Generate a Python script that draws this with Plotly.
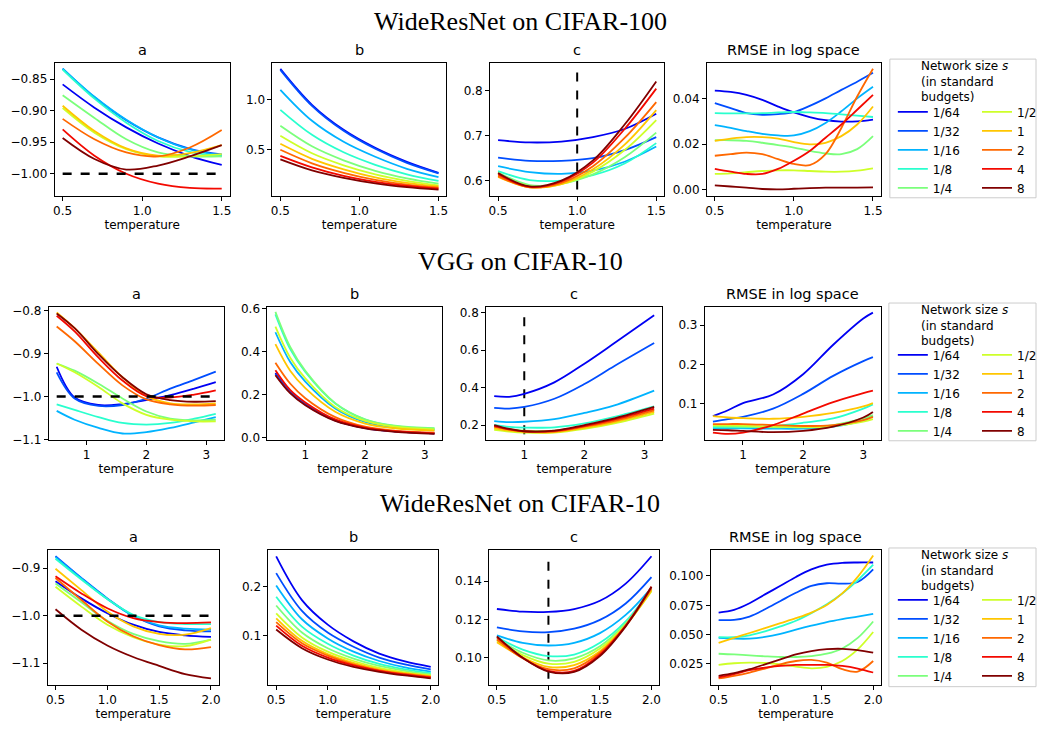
import plotly.graph_objects as go

W, H = 1042, 734

SIZES = ["1/64", "1/32", "1/16", "1/8", "1/4", "1/2", "1", "2", "4", "8"]
COLORS = ["#0000f3", "#004dff", "#00b3ff", "#29ffce", "#7bff7b",
          "#ceff29", "#ffc600", "#ff6800", "#f30900", "#800000"]
ROW_TITLES = ["WideResNet on CIFAR-100", "VGG on CIFAR-10", "WideResNet on CIFAR-10"]
PANEL_TITLES = ["a", "b", "c", "RMSE in log space"]
LEGEND_TITLE = "Network size <i>s</i><br>(in standard<br>budgets)"

# ---------------- Row 1: WideResNet on CIFAR-100 ----------------
T1 = [0.5, 0.7, 0.9, 1.1, 1.3, 1.5]
T1_RMSE = [0.5, 0.6, 0.7, 0.8, 0.9, 1.0, 1.1, 1.2, 1.3, 1.4, 1.5]
R1_A = [
    [-0.8583, -0.8952, -0.9265, -0.9521, -0.9719, -0.9860],
    [-0.8333, -0.8788, -0.9152, -0.9424, -0.9604, -0.9693],
    [-0.8333, -0.8780, -0.9145, -0.9425, -0.9615, -0.9714],
    [-0.8349, -0.8810, -0.9190, -0.9480, -0.9655, -0.9724],
    [-0.8755, -0.9115, -0.9453, -0.9662, -0.9724, -0.9724],
    [-0.8958, -0.9349, -0.9610, -0.9724, -0.9724, -0.9688],
    [-0.8922, -0.9323, -0.9599, -0.9714, -0.9672, -0.9547],
    [-0.9130, -0.9453, -0.9662, -0.9724, -0.9584, -0.9308],
    [-0.9297, -0.9714, -1.0000, -1.0157, -1.0225, -1.0235],
    [-0.9433, -0.9766, -0.9933, -0.9870, -0.9724, -0.9547],
]
R1_B = [
    [1.31, 0.95, 0.70, 0.52, 0.38, 0.27],
    [1.30, 0.94, 0.69, 0.51, 0.37, 0.265],
    [1.10, 0.79, 0.58, 0.43, 0.31, 0.227],
    [0.90, 0.65, 0.475, 0.35, 0.255, 0.19],
    [0.74, 0.535, 0.395, 0.29, 0.215, 0.162],
    [0.64, 0.465, 0.345, 0.255, 0.19, 0.145],
    [0.56, 0.41, 0.305, 0.225, 0.17, 0.133],
    [0.50, 0.365, 0.27, 0.20, 0.152, 0.122],
    [0.44, 0.325, 0.24, 0.18, 0.138, 0.112],
    [0.405, 0.295, 0.22, 0.165, 0.127, 0.102],
]
R1_C = [
    [0.690, 0.685, 0.687, 0.697, 0.715, 0.749],
    [0.651, 0.644, 0.644, 0.650, 0.668, 0.697],
    [0.632, 0.619, 0.615, 0.622, 0.642, 0.676],
    [0.621, 0.601, 0.600, 0.612, 0.638, 0.6835],
    [0.618, 0.590, 0.593, 0.614, 0.652, 0.707],
    [0.612, 0.587, 0.592, 0.620, 0.668, 0.735],
    [0.608, 0.585, 0.592, 0.625, 0.680, 0.757],
    [0.610, 0.585, 0.595, 0.632, 0.695, 0.775],
    [0.614, 0.586, 0.598, 0.640, 0.715, 0.805],
    [0.617, 0.587, 0.600, 0.645, 0.725, 0.821],
]
R1_RMSE = [
    [0.0435, 0.0429, 0.0416, 0.0394, 0.0365, 0.0339, 0.0319, 0.0305, 0.0299, 0.0300, 0.0308],
    [0.0380, 0.0358, 0.0336, 0.0329, 0.0332, 0.0341, 0.0368, 0.0401, 0.0438, 0.0474, 0.0513],
    [0.0283, 0.0271, 0.0257, 0.0245, 0.0238, 0.0238, 0.0257, 0.0293, 0.0344, 0.0401, 0.0452],
    [0.0336, 0.0335, 0.0335, 0.0336, 0.0339, 0.0341, 0.0339, 0.0336, 0.0331, 0.0325, 0.0319],
    [0.0217, 0.0217, 0.0214, 0.0206, 0.0196, 0.0185, 0.0170, 0.0159, 0.0156, 0.0178, 0.0235],
    [0.0069, 0.0072, 0.0077, 0.0082, 0.0085, 0.0085, 0.0082, 0.0079, 0.0079, 0.0084, 0.0094],
    [0.0214, 0.0224, 0.0231, 0.0231, 0.0224, 0.0209, 0.0199, 0.0206, 0.0235, 0.0286, 0.0365],
    [0.0149, 0.0156, 0.0163, 0.0156, 0.0134, 0.0113, 0.0108, 0.0156, 0.0271, 0.0409, 0.0531],
    [0.0091, 0.0079, 0.0069, 0.0069, 0.0091, 0.0127, 0.0170, 0.0228, 0.0286, 0.0351, 0.0416],
    [0.0019, 0.0014, 0.0009, 0.0003, 0.0001, 0.0004, 0.0007, 0.0009, 0.0009, 0.0009, 0.0010],
]

# ---------------- Row 2: VGG on CIFAR-10 ----------------
T2_A = [0.5, 0.8, 1.2, 1.6, 2.0, 2.4, 2.8, 3.16]
T2_BC = [0.5, 0.75, 1.0, 1.5, 2.0, 2.5, 3.16]
T2_RMSE = [0.5, 0.75, 1.0, 1.5, 2.0, 2.5, 3.0, 3.16]
R2_A = [
    [-0.9305, -1.0023, -1.0198, -1.0176, -1.0084, -0.9969, -0.9817, -0.9664],
    [-0.9435, -1.0046, -1.0221, -1.0198, -1.0046, -0.9817, -0.9611, -0.9420],
    [-1.0336, -1.0542, -1.0733, -1.0863, -1.0832, -1.0733, -1.0603, -1.0481],
    [-1.0183, -1.0313, -1.0481, -1.0618, -1.0656, -1.0618, -1.0519, -1.0405],
    [-0.9229, -0.9397, -0.9702, -1.0046, -1.0351, -1.0519, -1.0557, -1.0542],
    [-0.9229, -0.9435, -0.9779, -1.0160, -1.0427, -1.0542, -1.0580, -1.0580],
    [-0.8038, -0.8405, -0.8977, -0.9550, -0.9992, -1.0160, -1.0183, -1.0160],
    [-0.8366, -0.8710, -0.9244, -0.9740, -1.0069, -1.0183, -1.0214, -1.0198],
    [-0.8115, -0.8481, -0.9092, -0.9626, -0.9992, -1.0023, -0.9954, -0.9855],
    [-0.8061, -0.8405, -0.9015, -0.9550, -0.9947, -1.0084, -1.0122, -1.0107],
]
R2_B = [
    [0.300, 0.210, 0.155, 0.080, 0.045, 0.028, 0.019],
    [0.295, 0.210, 0.153, 0.079, 0.044, 0.028, 0.019],
    [0.490, 0.350, 0.260, 0.135, 0.072, 0.046, 0.035],
    [0.573, 0.410, 0.305, 0.158, 0.083, 0.053, 0.041],
    [0.585, 0.420, 0.310, 0.160, 0.085, 0.055, 0.043],
    [0.516, 0.370, 0.275, 0.142, 0.077, 0.050, 0.038],
    [0.435, 0.310, 0.230, 0.120, 0.065, 0.043, 0.032],
    [0.348, 0.250, 0.183, 0.095, 0.050, 0.031, 0.022],
    [0.313, 0.220, 0.163, 0.084, 0.046, 0.029, 0.019],
    [0.290, 0.205, 0.150, 0.077, 0.042, 0.026, 0.017],
]
R2_C = [
    [0.3544, 0.3509, 0.3667, 0.4281, 0.5281, 0.6386, 0.7877],
    [0.2912, 0.2877, 0.2965, 0.3404, 0.4193, 0.5158, 0.6386],
    [0.2211, 0.2158, 0.2175, 0.2316, 0.2649, 0.3053, 0.3842],
    [0.2000, 0.1895, 0.1860, 0.1877, 0.2088, 0.2439, 0.3000],
    [0.1877, 0.1772, 0.1702, 0.1702, 0.1912, 0.2263, 0.2825],
    [0.1737, 0.1649, 0.1596, 0.1596, 0.1789, 0.2088, 0.2614],
    [0.1825, 0.1702, 0.1632, 0.1614, 0.1842, 0.2158, 0.2702],
    [0.1912, 0.1754, 0.1649, 0.1649, 0.1912, 0.2228, 0.2789],
    [0.1947, 0.1772, 0.1667, 0.1684, 0.1947, 0.2298, 0.2877],
    [0.2000, 0.1789, 0.1667, 0.1702, 0.2000, 0.2351, 0.2965],
]
R2_RMSE = [
    [0.0683, 0.0833, 0.1017, 0.1233, 0.1750, 0.2500, 0.3167, 0.3317],
    [0.0542, 0.0608, 0.0667, 0.0875, 0.1250, 0.1708, 0.2083, 0.2183],
    [0.0375, 0.0375, 0.0375, 0.0367, 0.0367, 0.0417, 0.0583, 0.0692],
    [0.0400, 0.0400, 0.0400, 0.0433, 0.0517, 0.0625, 0.0875, 0.0983],
    [0.0433, 0.0425, 0.0417, 0.0400, 0.0417, 0.0458, 0.0625, 0.0708],
    [0.0458, 0.0450, 0.0442, 0.0417, 0.0400, 0.0433, 0.0542, 0.0608],
    [0.0683, 0.0650, 0.0633, 0.0617, 0.0667, 0.0767, 0.0933, 0.1017],
    [0.0483, 0.0483, 0.0483, 0.0458, 0.0433, 0.0458, 0.0583, 0.0667],
    [0.0267, 0.0233, 0.0267, 0.0458, 0.0750, 0.1042, 0.1267, 0.1333],
    [0.0333, 0.0325, 0.0308, 0.0275, 0.0308, 0.0417, 0.0650, 0.0792],
]

# ---------------- Row 3: WideResNet on CIFAR-10 ----------------
T3 = [0.5, 0.75, 1.0, 1.25, 1.5, 1.75, 2.0]
T3_RMSE = [0.5, 0.65, 0.8, 0.95, 1.1, 1.25, 1.4, 1.55, 1.7, 1.85, 2.0]
R3_A = [
    [-0.9277, -0.9637, -0.9948, -1.0190, -1.0343, -1.0412, -1.0446],
    [-0.8751, -0.9208, -0.9637, -1.0003, -1.0225, -1.0308, -1.0329],
    [-0.8772, -0.9221, -0.9651, -1.0003, -1.0204, -1.0273, -1.0294],
    [-0.8806, -0.9242, -0.9651, -0.9983, -1.0135, -1.0176, -1.0176],
    [-0.9325, -0.9720, -1.0107, -1.0384, -1.0536, -1.0592, -1.0502],
    [-0.9394, -0.9810, -1.0190, -1.0453, -1.0606, -1.0640, -1.0502],
    [-0.9014, -0.9464, -0.9913, -1.0225, -1.0384, -1.0398, -1.0260],
    [-0.9208, -0.9671, -1.0121, -1.0433, -1.0619, -1.0709, -1.0661],
    [-0.9173, -0.9533, -0.9844, -1.0052, -1.0135, -1.0156, -1.0142],
    [-0.9865, -1.0294, -1.0626, -1.0869, -1.1055, -1.1228, -1.1318],
]
R3_B = [
    [0.262, 0.173, 0.123, 0.089, 0.064, 0.048, 0.037],
    [0.228, 0.151, 0.107, 0.078, 0.056, 0.042, 0.032],
    [0.203, 0.134, 0.095, 0.068, 0.049, 0.036, 0.0275],
    [0.180, 0.119, 0.084, 0.060, 0.043, 0.032, 0.024],
    [0.162, 0.107, 0.075, 0.054, 0.039, 0.029, 0.0215],
    [0.146, 0.097, 0.068, 0.049, 0.035, 0.026, 0.0195],
    [0.136, 0.090, 0.063, 0.045, 0.032, 0.024, 0.018],
    [0.128, 0.085, 0.060, 0.042, 0.030, 0.0225, 0.0168],
    [0.121, 0.080, 0.056, 0.040, 0.029, 0.021, 0.0154],
    [0.113, 0.075, 0.052, 0.037, 0.027, 0.0195, 0.0134],
]
R3_C = [
    [0.1255, 0.1241, 0.1240, 0.1255, 0.1298, 0.1388, 0.1531],
    [0.1159, 0.1138, 0.1134, 0.1152, 0.1198, 0.1284, 0.1422],
    [0.1117, 0.1078, 0.1064, 0.1078, 0.1129, 0.1224, 0.1366],
    [0.1107, 0.1043, 0.1009, 0.1017, 0.1078, 0.1190, 0.1362],
    [0.1100, 0.1026, 0.0986, 0.0997, 0.1060, 0.1181, 0.1353],
    [0.1090, 0.1014, 0.0969, 0.0979, 0.1048, 0.1172, 0.1348],
    [0.1081, 0.1002, 0.0952, 0.0962, 0.1034, 0.1169, 0.1353],
    [0.1095, 0.0997, 0.0940, 0.0945, 0.1026, 0.1167, 0.1362],
    [0.1107, 0.1000, 0.0931, 0.0931, 0.1017, 0.1169, 0.1371],
    [0.1112, 0.1000, 0.0928, 0.0926, 0.1009, 0.1164, 0.1371],
]
R3_RMSE = [
    [0.0688, 0.0711, 0.0767, 0.0843, 0.0916, 0.0992, 0.1056, 0.1096, 0.1112, 0.1115, 0.1115],
    [0.0624, 0.0626, 0.0654, 0.0716, 0.0787, 0.0857, 0.0916, 0.0938, 0.0935, 0.0949, 0.1056],
    [0.0472, 0.0466, 0.0466, 0.0480, 0.0506, 0.0542, 0.0576, 0.0607, 0.0632, 0.0654, 0.0677],
    [0.0478, 0.0478, 0.0494, 0.0528, 0.0570, 0.0618, 0.0683, 0.0758, 0.0851, 0.0963, 0.1096],
    [0.0337, 0.0331, 0.0323, 0.0315, 0.0309, 0.0309, 0.0317, 0.0337, 0.0382, 0.0472, 0.0612],
    [0.0242, 0.0256, 0.0261, 0.0258, 0.0247, 0.0228, 0.0213, 0.0225, 0.0275, 0.0374, 0.0522],
    [0.0430, 0.0472, 0.0514, 0.0556, 0.0598, 0.0640, 0.0688, 0.0753, 0.0851, 0.0992, 0.1174],
    [0.0126, 0.0149, 0.0177, 0.0211, 0.0247, 0.0275, 0.0284, 0.0261, 0.0205, 0.0185, 0.0275],
    [0.0135, 0.0163, 0.0197, 0.0219, 0.0233, 0.0242, 0.0242, 0.0242, 0.0233, 0.0211, 0.0177],
    [0.0149, 0.0171, 0.0205, 0.0247, 0.0289, 0.0331, 0.0360, 0.0376, 0.0379, 0.0368, 0.0346],
]

# reference lines: a = -1 (horizontal), c at temperature 1 (vertical)
REF_A = -1.0
REF_T = 1.0
REF_C_SPAN = [[0.58, 0.85], [0.15, 0.80], [0.089, 0.152]]
T_SPAN = [[0.5, 1.5], [0.5, 3.16], [0.5, 2.0]]

# ticks
X_TICKS = [[0.5, 1.0, 1.5], [1, 2, 3], [0.5, 1.0, 1.5, 2.0]]
X_TICKTEXT = [["0.5", "1.0", "1.5"], ["1", "2", "3"], ["0.5", "1.0", "1.5", "2.0"]]
Y_TICKS = [
    [[-0.85, -0.90, -0.95, -1.00], [0.5, 1.0], [0.6, 0.7, 0.8], [0.00, 0.02, 0.04]],
    [[-0.8, -0.9, -1.0, -1.1], [0.0, 0.2, 0.4, 0.6], [0.2, 0.4, 0.6, 0.8], [0.1, 0.2, 0.3]],
    [[-0.9, -1.0, -1.1], [0.1, 0.2], [0.10, 0.12, 0.14], [0.025, 0.050, 0.075, 0.100]],
]
Y_TICKTEXT = [
    [["−0.85", "−0.90", "−0.95", "−1.00"], ["0.5", "1.0"], ["0.6", "0.7", "0.8"], ["0.00", "0.02", "0.04"]],
    [["−0.8", "−0.9", "−1.0", "−1.1"], ["0.0", "0.2", "0.4", "0.6"], ["0.2", "0.4", "0.6", "0.8"], ["0.1", "0.2", "0.3"]],
    [["−0.9", "−1.0", "−1.1"], ["0.1", "0.2"], ["0.10", "0.12", "0.14"], ["0.025", "0.050", "0.075", "0.100"]],
]

# ---------------- layout geometry (pixels) ----------------
X_RANGES = [[0.45, 1.55], [0.367, 3.293], [0.425, 2.075]]
Y_RANGES = [
    [[-1.035, -0.8245], [0.0395, 1.368], [0.566, 0.862], [-0.0027, 0.0556]],
    [[-1.101, -0.791], [-0.0107, 0.6076], [0.121, 0.8316], [0.0083, 0.346]],
    [[-1.145, -0.862], [0.0007, 0.2752], [0.0859, 0.1564], [0.0073, 0.1222]],
]
ROW_Y_PX = [[59, 194], [307, 442], [554, 691]]
COL_X_PX = [
    [[53, 229], [272, 447], [491, 666], [709, 884]],
    [[47, 223], [267, 443], [487, 664], [707, 884]],
    [[46, 218], [268, 439], [490, 661], [713, 884]],
]
ROW_TITLE_Y = [16.5, 261, 507]
LEGEND_BOX = [[893, 55, 1040, 196], [892, 303, 1040, 443], [892, 552, 1040, 693]]
LEGEND_TITLE_Y = [53, 301, 550]
LEGEND_ITEM_TOP = [94, 341, 590]
LEGEND_COL_X = [896, 981]

ROWS = [
    (T1, T1, T1, T1_RMSE, R1_A, R1_B, R1_C, R1_RMSE),
    (T2_A, T2_BC, T2_BC, T2_RMSE, R2_A, R2_B, R2_C, R2_RMSE),
    (T3, T3, T3, T3_RMSE, R3_A, R3_B, R3_C, R3_RMSE),
]

FONT = "DejaVu Sans"
fig = go.Figure()
annotations = []
shapes = []
layout = {}


def px_x(p):
    return p / W


def px_y(p):
    return 1 - p / H


def legend_name(n):
    return "legend" + ("" if n == 0 else str(n + 1))


for r, row in enumerate(ROWS):
    ts = row[:4]
    vals = row[4:]
    for c in range(4):
        i = r * 4 + c + 1
        xs = "" if i == 1 else str(i)
        xa, ya = "x" + xs, "y" + xs
        x0, x1 = COL_X_PX[r][c]
        y0, y1 = ROW_Y_PX[r]
        layout["xaxis" + xs] = dict(
            domain=[px_x(x0), px_x(x1)], anchor=ya, range=X_RANGES[r],
            tickvals=X_TICKS[r], ticktext=X_TICKTEXT[r],
            title=dict(text="temperature", font=dict(size=12, family=FONT, color="black"), standoff=3),
        )
        layout["yaxis" + xs] = dict(
            domain=[px_y(y1), px_y(y0)], anchor=xa, range=Y_RANGES[r][c],
            tickvals=Y_TICKS[r][c], ticktext=Y_TICKTEXT[r][c],
        )
        annotations.append(dict(
            text=PANEL_TITLES[c], xref="paper", yref="paper",
            x=px_x((x0 + x1) / 2), y=px_y(y0), xanchor="center", yanchor="bottom",
            yshift=3, showarrow=False, font=dict(size=14.5, family=FONT, color="black"),
        ))
        if c == 2:
            fig.add_trace(go.Scatter(
                x=[REF_T, REF_T], y=REF_C_SPAN[r], xaxis=xa, yaxis=ya, mode="lines",
                line=dict(color="black", width=2, dash="dash"), showlegend=False, hoverinfo="skip"))
        for k, size in enumerate(SIZES):
            fig.add_trace(go.Scatter(
                x=ts[c], y=vals[c][k], xaxis=xa, yaxis=ya, mode="lines",
                line=dict(color=COLORS[k], width=1.8, shape="spline", smoothing=1.0),
                name=size, legend=legend_name(2 * r + (0 if k < 5 else 1)), showlegend=(c == 3),
                hovertemplate="T=%{x}<br>%{y}<extra>" + size + "</extra>",
            ))
        if c == 0:
            fig.add_trace(go.Scatter(
                x=T_SPAN[r], y=[REF_A, REF_A], xaxis=xa, yaxis=ya, mode="lines",
                line=dict(color="black", width=2.5, dash="dash"), showlegend=False, hoverinfo="skip"))
    # row title
    annotations.append(dict(
        text=ROW_TITLES[r], xref="paper", yref="paper", x=px_x(521),
        y=px_y(ROW_TITLE_Y[r]), xanchor="center", yanchor="middle", showarrow=False,
        font=dict(size=26, family="Liberation Serif", color="black"),
    ))
    # legend frame + title
    bx0, by0, bx1, by1 = LEGEND_BOX[r]
    shapes.append(dict(type="rect", xref="paper", yref="paper",
                       x0=px_x(bx0), x1=px_x(bx1), y0=px_y(by1), y1=px_y(by0),
                       line=dict(color="#cccccc", width=1), fillcolor="rgba(0,0,0,0)"))
    annotations.append(dict(
        text=LEGEND_TITLE, xref="paper", yref="paper", x=px_x(922), y=px_y(LEGEND_TITLE_Y[r]),
        xanchor="left", yanchor="top", align="left", showarrow=False,
        font=dict(size=12, family=FONT, color="black"),
    ))
    for half in range(2):
        layout[legend_name(2 * r + half)] = dict(
            x=px_x(LEGEND_COL_X[half]), xanchor="left",
            y=px_y(LEGEND_ITEM_TOP[r]), yanchor="top",
            bgcolor="rgba(0,0,0,0)", borderwidth=0, itemwidth=30,
            font=dict(size=12, family=FONT, color="black"), tracegroupgap=0,
        )

fig.update_layout(**layout)
fig.update_xaxes(showline=True, mirror=True, linecolor="black", linewidth=1, ticks="outside",
                 ticklen=4, tickwidth=1, tickcolor="black", showgrid=False, zeroline=False,
                 tickfont=dict(size=12, family=FONT, color="black"))
fig.update_yaxes(showline=True, mirror=True, linecolor="black", linewidth=1, ticks="outside",
                 ticklen=4, tickwidth=1, tickcolor="black", showgrid=False, zeroline=False,
                 tickfont=dict(size=12, family=FONT, color="black"))
fig.update_layout(
    width=W, height=H, margin=dict(l=0, r=0, t=0, b=0),
    paper_bgcolor="white", plot_bgcolor="white",
    annotations=annotations, shapes=shapes,
    font=dict(family=FONT, size=12, color="black"),
)
# the figure fills the whole 1042x734 page: drop the browser's default body margin
fig.write_html("out.html", config={"displayModeBar": False},
               post_script="document.body.style.margin = '0px';")
